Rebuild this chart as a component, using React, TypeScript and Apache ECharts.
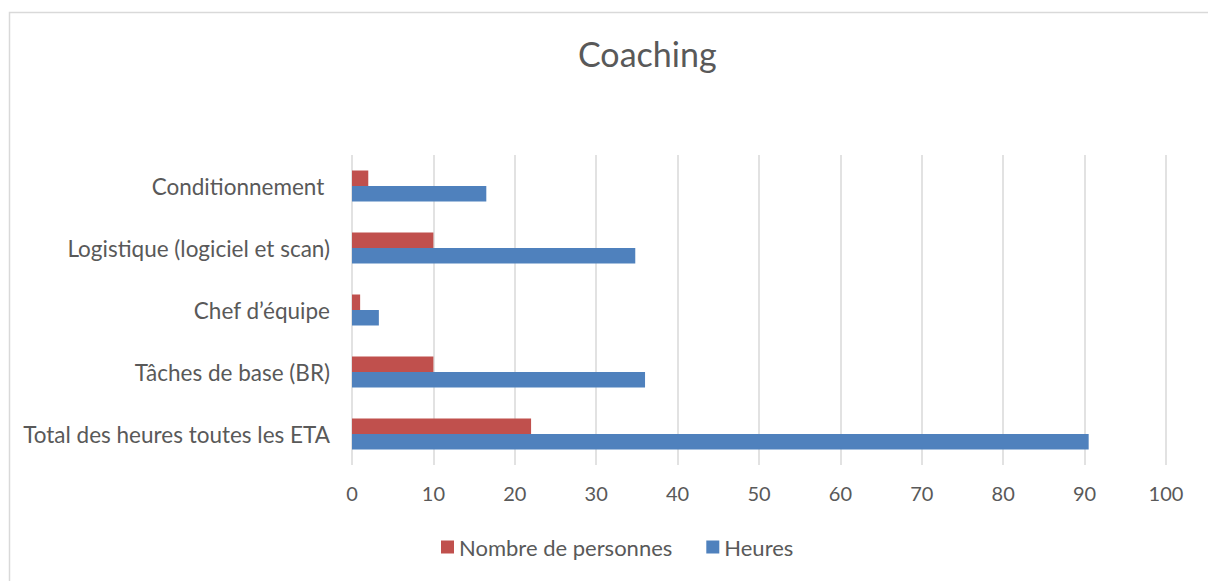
import React, { useEffect, useRef } from "react";
import * as echarts from "echarts";

const categories = [
  "Total des heures toutes les ETA",
  "Tâches de base (BR)",
  "Chef d’équipe",
  "Logistique (logiciel et scan)",
  "Conditionnement ",
];
const personnes = [22, 10, 1, 10, 2];
const heures = [90.5, 36, 3.3, 34.8, 16.5];
const seriesNames = ["Nombre de personnes", "Heures"];

const FONT = "Lato, 'Open Sans', sans-serif";
const TXT = "#595959";

export default function App() {
  const ref = useRef<HTMLDivElement>(null);
  useEffect(() => {
    document.body.style.margin = "0";
    const chart = echarts.init(ref.current!, null, { renderer: "svg" });
    chart.setOption({
      animation: false,
      backgroundColor: "#ffffff",
      textStyle: { fontFamily: FONT },
      graphic: [
        {
          type: "rect",
          left: 7,
          top: 10,
          shape: { width: 1400, height: 800 },
          style: { fill: "none", stroke: "#d9d9d9", lineWidth: 1.5 },
          silent: true,
        },
      ],
      title: {
        text: "Coaching",
        left: 573,
        top: 31,
        textStyle: { fontFamily: FONT, fontSize: 34, fontWeight: "normal", color: TXT },
      },
      legend: {
        bottom: 18,
        left: 436,
        data: seriesNames,
        icon: "rect",
        itemWidth: 13,
        itemHeight: 13,
        itemGap: 34,
        textStyle: { fontFamily: FONT, fontSize: 22, color: TXT },
      },
      grid: { left: 352, right: 42, top: 155, bottom: 116 },
      xAxis: {
        type: "value",
        min: 0,
        max: 100,
        interval: 10,
        axisLine: { show: false },
        axisTick: { show: false },
        axisLabel: { fontFamily: FONT, fontSize: 20, color: TXT, margin: 18 },
        splitLine: { show: true, lineStyle: { color: "#d9d9d9", width: 1.5 } },
      },
      yAxis: {
        type: "category",
        data: categories,
        axisLine: { show: false },
        axisTick: { show: false },
        axisLabel: { fontFamily: FONT, fontSize: 22.5, color: TXT, margin: 22 },
        splitLine: { show: false },
      },
      series: [
        {
          name: seriesNames[0],
          type: "bar",
          data: personnes,
          itemStyle: { color: "#C0504D" },
          barGap: "0%",
          barCategoryGap: "50%",
        },
        {
          name: seriesNames[1],
          type: "bar",
          data: heures,
          itemStyle: { color: "#4F81BD" },
          barGap: "0%",
          barCategoryGap: "50%",
        },
      ],
    });
    return () => chart.dispose();
  }, []);
  return (
    <div
      ref={ref}
      style={{ position: "absolute", left: 0, top: 0, width: 1208, height: 581 }}
    />
  );
}
